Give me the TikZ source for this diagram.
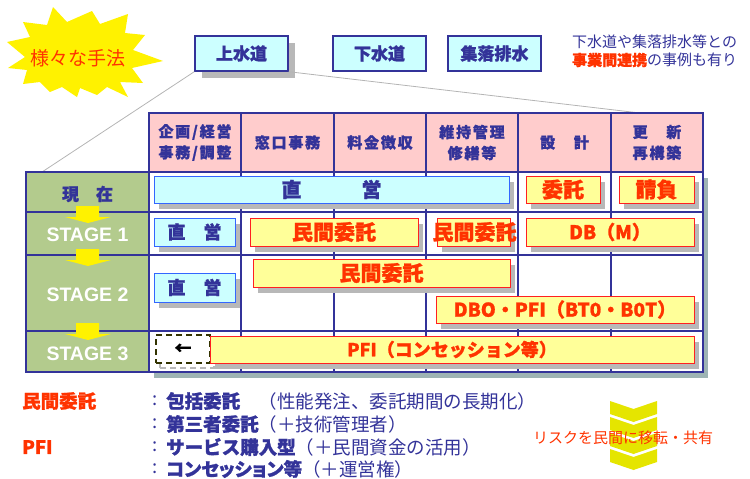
\documentclass[tikz,border=0pt]{standalone}
\usepackage{fontspec}
\setmainfont{Noto Sans CJK JP}[BoldFeatures={FakeBold=1.2}]
\newfontfamily\lsans{Liberation Sans}
\usetikzlibrary{shadows}
\definecolor{navy}{HTML}{333399}
\definecolor{rred}{HTML}{FF3300}
\definecolor{boxred}{HTML}{FF2020}
\definecolor{ylw}{HTML}{FFFF99}
\definecolor{cyn}{HTML}{CCFFFF}
\definecolor{cynb}{HTML}{3366FF}
\definecolor{pnk}{HTML}{FFCCCC}
\definecolor{grn}{HTML}{B3CB8D}
\definecolor{shd}{HTML}{B8B8B8}
\definecolor{tshd}{HTML}{9EB4B4}
\definecolor{chev}{HTML}{E5E500}
\definecolor{dkol}{HTML}{333300}
\definecolor{lgray}{HTML}{B4B4B4}
\newcommand\fsz[2]{\fontsize{#1}{#2}\selectfont}
\begin{document}
\begin{tikzpicture}[x=1pt,y=-1pt,
  tcell/.style={draw=navy, line width=1.8pt, inner sep=0pt, outer sep=0pt, anchor=north west},
  hcell/.style={tcell, fill=pnk, text=navy, align=center,
    font=\bfseries\fsz{15}{21}\addfontfeature{LetterSpace=12}},
  lcell/.style={tcell, fill=grn},
  bcell/.style={tcell, fill=white},
  sshadow/.style={drop shadow={shadow xshift=5pt, shadow yshift=-6pt, fill=shd, opacity=1}},
  cybox/.style={draw=cynb, line width=0.9pt, fill=cyn, text=navy, inner sep=0pt, sshadow},
  yebox/.style={draw=boxred, line width=0.9pt, fill=ylw, text=rred, inner sep=0pt, sshadow},
  topbox/.style={draw=navy, line width=1.4pt, fill=cyn, text=navy, inner sep=0pt,
    font=\bfseries\fsz{17}{20}, minimum width=93pt, minimum height=35pt},
  lbl/.style={text=white, font=\lsans\bfseries\fsz{19.5}{22}},
  yarrow/.style={fill=yellow, draw=none},
  leg/.style={anchor=west, inner sep=0pt, text=navy, font=\fsz{18.5}{22}}
]
\useasboundingbox (0,0) rectangle (750,479);

% starburst
\filldraw[fill=yellow, draw=none] (53,7) -- (67,22) -- (92,11) -- (100,24) -- (128,14) -- (125,33) -- (145,35) -- (133,50) -- (163,61) -- (132,68) -- (143,83) -- (120,82) -- (128,97) -- (107,87) -- (97,95) -- (80,88) -- (77,97) -- (62,87) -- (50,92) -- (40,82) -- (23,84) -- (27,70) -- (8,68) -- (25,57) -- (7,42) -- (30,37) -- (23,22) -- (47,25) -- cycle;
\node[text=rred, font=\fsz{19}{22}, inner sep=0pt] (star) at (78,58) {様々な手法};

% top boxes
\node[topbox, drop shadow={shadow xshift=7pt, shadow yshift=-7pt, fill=shd, opacity=1}] (jou) at (241.5,53.5) {上水道};
\node[topbox] (ge) at (379.5,53.5) {下水道};
\node[topbox] (shu) at (494.5,53.5) {集落排水};

\node[anchor=west, inner sep=0pt, text=navy, font=\fsz{15}{18}] (note1) at (572,42) {下水道や集落排水等との};
\node[anchor=west, inner sep=0pt, text=navy, font=\fsz{15}{18}] (note2) at (572,60) {{\bfseries\color{rred}事業間連携}の事例も有り};

% connector lines behind table
\coordinate (cl) at (42,172);
\coordinate (cr) at (640,113);
\draw[lgray, line width=0.8pt] (jou.south west) -- (cl);
\draw[lgray, line width=0.8pt] (jou.south east) -- (cr);

% table shadow
\fill[tshd] (154,178) rectangle (708,378);

% header cells
\foreach \xa/\xb/\t [count=\c] in {149/241/{企画/経営\\事務/調整}, 241/334/{窓口事務}, 334/426/{料金徴収}, 426/518/{維持管理\\修繕等}, 518/611/{設　計}, 611/703/{更　新\\再構築}} {
  \pgfmathsetmacro\w{\xb-\xa}
  \node[hcell, minimum width=\w pt, minimum height=59pt] (h\c) at (\xa,113) {\t};
}
% body cells
\foreach \xa/\xb [count=\c] in {149/241,241/334,334/426,426/518,518/611,611/703} {
  \foreach \ya/\yb [count=\r] in {172/212,212/255,255/331,331/372} {
    \pgfmathsetmacro\w{\xb-\xa}
    \pgfmathsetmacro\h{\yb-\ya}
    \node[bcell, minimum width=\w pt, minimum height=\h pt] (b\r\c) at (\xa,\ya) {};
  }
}
% left column
\foreach \ya/\yb [count=\r] in {172/212,212/255,255/331,331/372} {
  \pgfmathsetmacro\h{\yb-\ya}
  \node[lcell, minimum width=123pt, minimum height=\h pt] (l\r) at (26,\ya) {};
}
% yellow arrows
\foreach \y in {206,249,323} {
  \fill[yarrow] (76,\y) -- (99,\y) -- (99,\y+11) -- (111,\y+11) -- (88,\y+17) -- (65,\y+11) -- (76,\y+11) -- cycle;
}
\node[text=navy, font=\bfseries\fsz{17}{20}] (now) at (87.5,194) {現　在};
\node[lbl] (s1) at (87.5,235) {STAGE 1};
\node[lbl] (s2) at (87.5,295) {STAGE 2};
\node[lbl] (s3) at (87.5,353.5) {STAGE 3};

% row: present
\node[cybox, minimum width=355pt, minimum height=27pt, font=\bfseries\fsz{20}{22}] (p1) at (331.5,189.5) {直　　　営};
\node[yebox, minimum width=74pt, minimum height=27pt, font=\bfseries\fsz{21}{23}] (p2) at (563,189.5) {委託};
\node[yebox, minimum width=75pt, minimum height=27pt, font=\bfseries\fsz{21}{23}] (p3) at (656.5,189.5) {請負};

% row: stage 1
\node[cybox, minimum width=81pt, minimum height=28pt, font=\bfseries\fsz{18}{20}] (a1) at (194.5,232) {直　営};
\node[yebox, minimum width=168pt, minimum height=28pt, font=\bfseries\fsz{21}{23}] (a2) at (334,232) {民間委託};
\node[yebox, minimum width=73pt, minimum height=28pt] (a3) at (473.5,232) {};
\node[text=rred, inner sep=0pt, font=\bfseries\fsz{21}{23}] (a3t) at (474.5,232) {民間委託};
\node[yebox, minimum width=168pt, minimum height=28pt, font=\bfseries\fsz{19}{22}] (a4) at (610,232) {DB（M）};

% row: stage 2
\node[cybox, minimum width=81pt, minimum height=29pt, font=\bfseries\fsz{18}{20}] (c1) at (194.5,287.5) {直　営};
\node[yebox, minimum width=257pt, minimum height=28pt, font=\bfseries\fsz{21}{23}] (c2) at (381.5,273) {民間委託};
\node[yebox, minimum width=258pt, minimum height=27pt, font=\bfseries\fsz{19}{22}] (c3) at (565,309.5) {DBO・PFI（BT0・B0T）};

% row: stage 3
\node[draw=dkol, dash pattern=on 6pt off 4pt, line width=1.5pt, fill=white, inner sep=0pt,
  minimum width=54pt, minimum height=28pt, font=\bfseries\fsz{17}{20},
  drop shadow={shadow xshift=4pt, shadow yshift=-5pt, fill=none, draw=shd, opacity=1}] (d1) at (183,349) {←};
\node[yebox, minimum width=484pt, minimum height=27pt, font=\bfseries\fsz{18}{22}] (d2) at (452,349.5) {PFI（コンセッション等）};

% legend
\node[anchor=west, inner sep=0pt, text=rred, font=\bfseries\fsz{18.5}{22}] (k1) at (22,401) {民間委託};
\node[anchor=west, inner sep=0pt, text=rred, font=\bfseries\fsz{18.5}{22}] (k2) at (22,447) {PFI};
\foreach \y/\b/\n [count=\i] in {401/{包括委託}/{　（性能発注、委託期間の長期化）},
                                  424/{第三者委託}/{（＋技術管理者）},
                                  447/{サービス購入型}/{（＋民間資金の活用）}} {
  \node[leg] (c\i) at (152,\y) {:};
  \node[leg] (t\i) at (166,\y) {{\bfseries\b}\n};
}
\node[leg] (c4) at (152,469) {:};
\node[leg] (t4) at (166,469) {{\bfseries\addfontfeature{RawFeature=+palt}コンセッション等}（＋運営権）};

% chevrons
\foreach \k in {0,1,2,3} {
  \pgfmathsetmacro\yo{401+16*\k}
  \fill[chev] (610,\yo) -- (633.5,\yo+8) -- (657,\yo) -- (657,\yo+13) -- (633.5,\yo+21) -- (610,\yo+13) -- cycle;
}
\node[text=rred, font=\fsz{15}{18}, inner sep=0pt] (risk) at (623,438) {リスクを民間に移転・共有};
\end{tikzpicture}
\end{document}
